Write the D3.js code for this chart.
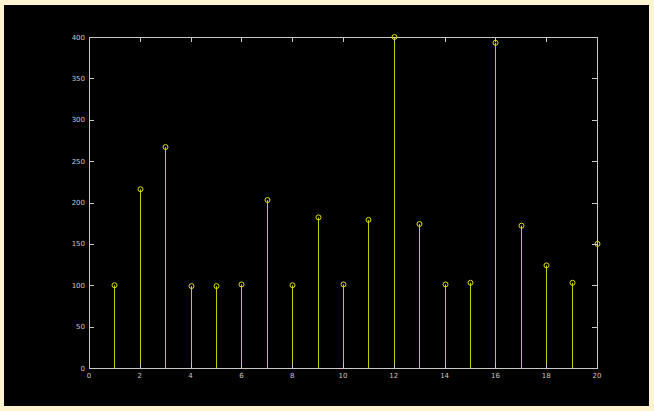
<!DOCTYPE html>
<html><head><meta charset="utf-8">
<script src="https://cdn.jsdelivr.net/npm/d3@7"></script>
<style>
html,body{margin:0;padding:0;background:#fff3d0;}
svg{display:block;}
</style></head>
<body>
<svg id="c" width="654" height="411"></svg>
<script>
const xs = [1,2,3,4,5,6,7,8,9,10,11,12,13,14,15,16,17,18,19,20];
const ys = [100,216,267,99,99,101,203,100,182,101,179,400,174,101,103,393,172,124,103,150];
const xTicks = [0,2,4,6,8,10,12,14,16,18,20];
const yTicks = [0,50,100,150,200,250,300,350,400];

const svg = d3.select("#c");
svg.append("rect").attr("x",4).attr("y",5).attr("width",645).attr("height",401).attr("fill","#000");

const L=89, R=597, T=37, B=368;
const x = d3.scaleLinear().domain([0,20]).range([L,R]);
const y = d3.scaleLinear().domain([0,400]).range([B,T]);
const axisCol = "#c8c8c8";
const stemCol = "#c8c800";
const tl = 5;

const g = svg.append("g");
// stems
g.selectAll("line.stem").data(xs).join("line")
  .attr("x1",(d)=>Math.round(x(d))+0.5).attr("x2",(d)=>Math.round(x(d))+0.5)
  .attr("y1",y(0)).attr("y2",(d,i)=>y(ys[i]))
  .attr("stroke",stemCol).attr("stroke-width",1);

// box
g.append("rect").attr("x",L+0.5).attr("y",T+0.5).attr("width",R-L).attr("height",B-T)
  .attr("fill","none").attr("stroke",axisCol).attr("stroke-width",1);

// ticks
xTicks.forEach(t=>{
  const px = Math.round(x(t))+0.5;
  g.append("line").attr("x1",px).attr("x2",px).attr("y1",B).attr("y2",B-tl).attr("stroke",axisCol);
  g.append("line").attr("x1",px).attr("x2",px).attr("y1",T).attr("y2",T+tl).attr("stroke",axisCol);
  g.append("text").attr("x",x(t)).attr("y",B+10).attr("text-anchor","middle")
    .attr("fill",axisCol).attr("font-family","DejaVu Sans, sans-serif").attr("font-size",7).text(t);
});
yTicks.forEach(t=>{
  const py = Math.round(y(t))+0.5;
  g.append("line").attr("x1",L).attr("x2",L+tl).attr("y1",py).attr("y2",py).attr("stroke",axisCol);
  g.append("line").attr("x1",R).attr("x2",R-tl).attr("y1",py).attr("y2",py).attr("stroke",axisCol);
  g.append("text").attr("x",L-4).attr("y",y(t)+2.5).attr("text-anchor","end")
    .attr("fill",axisCol).attr("font-family","DejaVu Sans, sans-serif").attr("font-size",7).text(t);
});

// markers
g.selectAll("circle").data(xs).join("circle")
  .attr("cx",(d)=>Math.round(x(d))+0.5).attr("cy",(d,i)=>y(ys[i]))
  .attr("r",2.5).attr("fill","none").attr("stroke","#e0e000").attr("stroke-width",1);
</script>
</body></html>
